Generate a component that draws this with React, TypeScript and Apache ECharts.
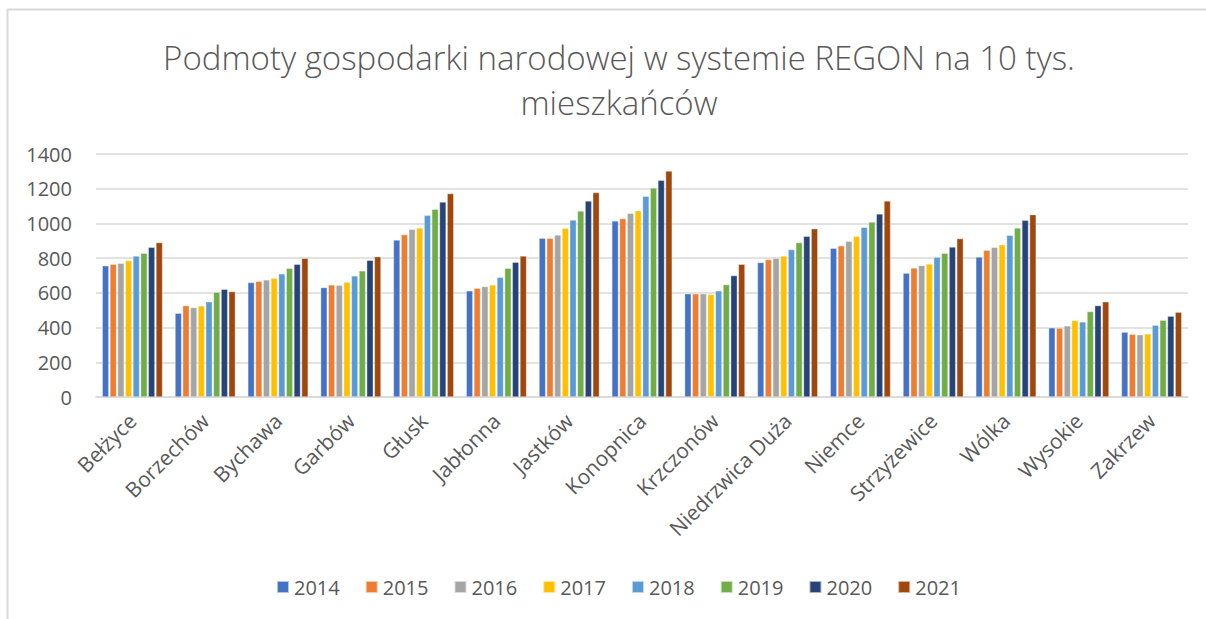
import React, { useEffect, useRef } from "react";
import * as echarts from "echarts";

const categories = [
  "Bełżyce", "Borzechów", "Bychawa", "Garbów", "Głusk", "Jabłonna", "Jastków",
  "Konopnica", "Krzczonów", "Niedrzwica Duża", "Niemce", "Strzyżewice", "Wólka",
  "Wysokie", "Zakrzew",
];

const years = ["2014", "2015", "2016", "2017", "2018", "2019", "2020", "2021"];

const colors = ["#4472c4", "#ed7d31", "#a5a5a5", "#ffc000", "#5b9bd5", "#70ad47", "#264478", "#9e480e"];

// values per municipality, years 2014..2021
const belzyce = [756, 765, 771, 786, 813, 829, 863, 890];
const borzechow = [483, 527, 516, 525, 549, 604, 621, 608];
const bychawa = [660, 667, 675, 685, 710, 742, 765, 800];
const garbow = [631, 646, 644, 662, 698, 727, 788, 809];
const glusk = [905, 936, 967, 974, 1047, 1082, 1124, 1172];
const jablonna = [612, 627, 637, 646, 690, 742, 777, 813];
const jastkow = [915, 915, 934, 972, 1020, 1072, 1130, 1178];
const konopnica = [1015, 1028, 1059, 1074, 1157, 1205, 1249, 1302];
const krzczonow = [595, 595, 595, 591, 612, 648, 700, 765];
const niedrzwica = [775, 792, 800, 813, 850, 890, 926, 970];
const niemce = [857, 871, 898, 926, 978, 1009, 1055, 1130];
const strzyzewice = [714, 744, 758, 767, 806, 829, 865, 913];
const wolka = [807, 846, 863, 878, 932, 974, 1018, 1051];
const wysokie = [399, 397, 410, 441, 433, 493, 527, 549];
const zakrzew = [374, 362, 359, 364, 414, 443, 466, 489];

const rows = [
  belzyce, borzechow, bychawa, garbow, glusk, jablonna, jastkow, konopnica,
  krzczonow, niedrzwica, niemce, strzyzewice, wolka, wysokie, zakrzew,
];

const yTicks = [0, 200, 400, 600, 800, 1000, 1200, 1400];

const titleLines = ["Podmoty gospodarki narodowej w systemie REGON na 10 tys.", "mieszkańców"];

const FONT = "'Open Sans', Lato, sans-serif";
const TXT = "#595959";

export default function App() {
  const ref = useRef<HTMLDivElement>(null);

  useEffect(() => {
    document.body.style.margin = "0";
    if (!ref.current) return;
    const chart = echarts.init(ref.current, null, { renderer: "svg" });
    const series = years.map((y, i) => ({
      name: y,
      type: "bar",
      data: rows.map((r) => r[i]),
      itemStyle: { color: colors[i], borderColor: "rgba(255,255,255,0.6)", borderWidth: 0.6 },
      barGap: "15%",
      barCategoryGap: "17%",
    }));
    const titleStyle = {
      fontFamily: FONT,
      fontSize: 33,
      fontWeight: 300,
      fill: TXT,
      align: "center",
      verticalAlign: "middle",
    };
    chart.setOption({
      animation: false,
      backgroundColor: "#ffffff",
      textStyle: { fontFamily: FONT },
      graphic: [
        {
          type: "rect",
          shape: { x: 7.5, y: 9.5, width: 1210, height: 620 },
          style: { fill: "none", stroke: "#d9d9d9", lineWidth: 2 },
          silent: true,
        },
        { type: "text", x: 619, y: 57, style: { ...titleStyle, text: titleLines[0] } },
        { type: "text", x: 619, y: 102, style: { ...titleStyle, text: titleLines[1] } },
      ],
      legend: {
        data: years,
        bottom: 17,
        left: 271,
        itemWidth: 12,
        itemHeight: 12,
        itemGap: 25,
        icon: "rect",
        textStyle: { fontFamily: FONT, fontSize: 20, color: TXT },
      },
      grid: { left: 96, right: 18, top: 154, bottom: 222 },
      xAxis: {
        type: "category",
        data: categories,
        axisLine: { lineStyle: { color: "#d9d9d9", width: 1.5 } },
        axisTick: { show: false },
        axisLabel: {
          rotate: 45,
          interval: 0,
          fontFamily: FONT,
          fontSize: 21,
          color: TXT,
          margin: 20,
        },
      },
      yAxis: {
        type: "value",
        min: yTicks[0],
        max: yTicks[yTicks.length - 1],
        interval: 200,
        axisLine: { show: false },
        axisTick: { show: false },
        splitLine: { lineStyle: { color: "#d9d9d9", width: 1.5 } },
        axisLabel: {
          fontFamily: FONT,
          fontSize: 20,
          color: TXT,
          margin: 24,
          formatter: (v: number) => String(v),
        },
      },
      series,
    });
    return () => chart.dispose();
  }, []);

  return <div ref={ref} style={{ width: 1206, height: 619 }} />;
}
